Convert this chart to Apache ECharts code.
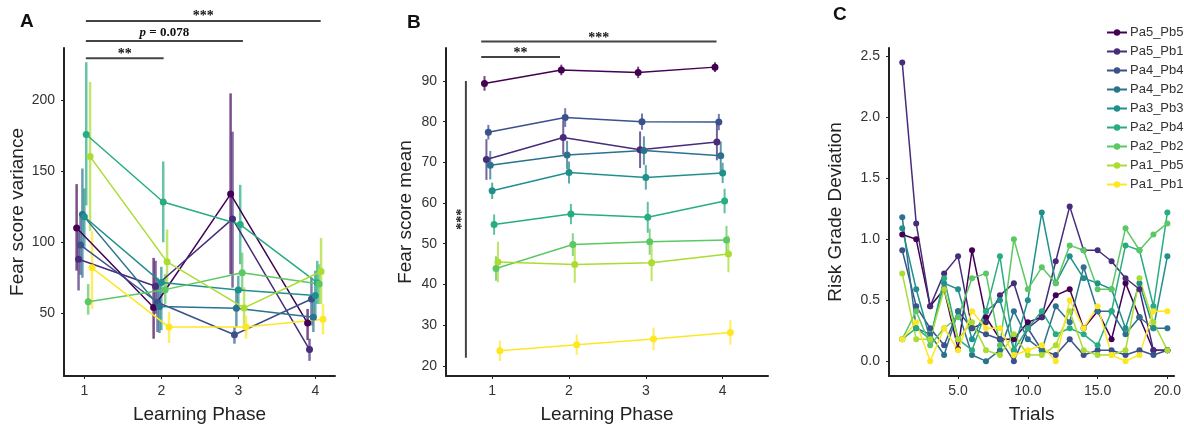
<!DOCTYPE html>
<html><head><meta charset="utf-8">
<script src="https://cdn.jsdelivr.net/npm/echarts@6/dist/echarts.min.js"></script>
<style>html,body{margin:0;padding:0;background:#fff}#c{width:1184px;height:429px}</style>
</head><body><div id="c"></div>
<script>
// ---------- data ----------
const seriesNames = ['Pa5_Pb5','Pa5_Pb1','Pa4_Pb4','Pa4_Pb2','Pa3_Pb3','Pa2_Pb4','Pa2_Pb2','Pa1_Pb5','Pa1_Pb1'];
const colors = ['#440154','#472c7a','#3b518b','#2c718e','#21908d','#27ad81','#5cc863','#aadc32','#fde725'];
const phases = [1, 2, 3, 4];
const trials = [1,2,3,4,5,6,7,8,9,10,11,12,13,14,15,16,17,18,19,20];

// tick values
const phaseTicks = [1, 2, 3, 4];
const aYTicks = [50, 100, 150, 200];
const bYTicks = [20, 30, 40, 50, 60, 70, 80, 90];
const cXTicks = [5, 10, 15, 20];
const cYTicks = [0, 0.5, 1.0, 1.5, 2.0, 2.5];

// Panel A: fear score variance (mean, lower, upper)
const aMean = [
  [110, 54, 134, 43],
  [88, 69, 116.5, 24.3],
  [98, 57.7, 34.8, 60],
  [119.5, 54.7, 53.5, 47.2],
  [118, 71.7, 66.3, 62.4],
  [176, 128.4, 112.5, 71.5],
  [58, 66.6, 78.5, 70.5],
  [160.4, 86.2, 53.7, 79.4],
  [82, 40.2, 40.2, 45.8]
];
const aLow = [
  [80, 32, 77.5, 31],
  [66, 49.5, 68, 16.4],
  [77, 36.7, 28.5, 41.4],
  [75, 36, 40.2, 36.7],
  [96, 38, 56.5, 47.2],
  [126, 100, 84.5, 56.5],
  [49, 56.5, 66, 56.5],
  [108, 67, 40.2, 56.5],
  [53, 29, 32, 35]
];
const aHigh = [
  [141, 89, 205, 53],
  [108, 87, 178, 32],
  [118, 75, 40.2, 75],
  [152, 70.5, 67, 61.2],
  [138, 82.7, 76.4, 79.9],
  [227, 157, 140.5, 86.9],
  [70.5, 77.5, 92.7, 84.5],
  [213, 109, 68.2, 103],
  [108, 50.7, 48.4, 56.5]
];

// Panel B: fear score mean (mean, +/- error)
const bMean = [
  [89.4, 92.7, 92.1, 93.4],
  [70.7, 76.1, 73.1, 75.0],
  [77.4, 81.0, 80.0, 79.9],
  [69.3, 71.8, 72.9, 71.6],
  [63.0, 67.5, 66.3, 67.4],
  [54.7, 57.3, 56.5, 60.5],
  [43.9, 49.8, 50.5, 50.9],
  [45.5, 44.9, 45.3, 47.5],
  [23.7, 25.2, 26.6, 28.2]
];
const bErr = [
  [1.8, 1.3, 1.4, 1.2],
  [5.0, 4.2, 4.5, 4.5],
  [1.8, 2.3, 2.0, 2.0],
  [3.5, 3.5, 3.5, 3.5],
  [2.0, 2.7, 3.0, 2.5],
  [2.5, 2.5, 3.8, 3.0],
  [3.0, 2.8, 3.2, 3.5],
  [5.0, 4.5, 4.5, 4.5],
  [2.5, 2.5, 2.8, 3.0]
];

// Panel C: risk grade deviation per trial
const cVals = [
  [1.04, 1.0, 0.45, 0.59, 0.1, 0.91, 0.36, 0.18, 0.18, 0.32, 0.36, 0.54, 0.59, 0.27, 0.41, 0.18, 0.64, 0.36, 0.09, 0.09],
  [2.45, 1.13, 0.45, 0.72, 0.86, 0.27, 0.32, 0.54, 0.64, 0.27, 0.36, 0.82, 1.27, 0.91, 0.91, 0.82, 0.68, 0.59, 0.09, 0.09],
  [0.91, 0.45, 0.27, 0.13, 0.41, 0.27, 0.22, 0.18, 0.0, 0.27, 0.09, 0.05, 0.18, 0.05, 0.09, 0.09, 0.05, 0.09, 0.05, 0.09],
  [1.18, 0.27, 0.22, 0.05, 0.41, 0.05, 0.0, 0.09, 0.41, 0.18, 0.09, 0.45, 0.32, 0.77, 0.41, 0.41, 0.22, 0.36, 0.27, 0.27],
  [1.09, 0.59, 0.18, 0.64, 0.59, 0.18, 0.41, 0.5, 0.09, 0.5, 1.22, 0.64, 0.86, 0.68, 0.64, 0.59, 0.27, 0.64, 0.27, 0.86],
  [0.18, 0.27, 0.18, 0.68, 0.18, 0.09, 0.41, 0.86, 0.09, 0.27, 0.41, 0.22, 0.27, 0.22, 0.13, 0.41, 0.95, 0.91, 0.45, 1.22],
  [0.18, 0.41, 0.13, 0.27, 0.36, 0.68, 0.72, 0.13, 1.0, 0.59, 0.77, 0.64, 0.95, 0.91, 0.59, 0.59, 1.09, 0.91, 1.04, 1.13],
  [0.72, 0.18, 0.18, 0.59, 0.18, 0.32, 0.09, 0.05, 0.22, 0.05, 0.05, 0.13, 0.41, 0.09, 0.05, 0.05, 0.09, 0.68, 0.32, 0.09],
  [0.18, 0.32, 0.0, 0.27, 0.09, 0.41, 0.27, 0.27, 0.05, 0.09, 0.13, 0.0, 0.5, 0.27, 0.45, 0.05, 0.0, 0.05, 0.41, 0.41]
];

// significance annotations (in data units)
const aBrackets = [
  {from: 1.02, to: 4.07, level: 256, text: '***', dy: -5},
  {from: 1.02, to: 3.06, level: 242, text: 'p = 0.078', dy: -8},
  {from: 1.02, to: 2.03, level: 229.7, text: '**', dy: -3.5}
];
const bBrackets = [
  {from: 0.857, to: 3.92, level: 99.7, text: '***', dy: -3.5},
  {from: 0.857, to: 1.883, level: 95.9, text: '**', dy: -3.5}
];
const bVertical = {x: 0.658, from: 22, to: 90, text: '***'};

// ---------- chart ----------
const FONT = '"Liberation Sans", Arial, sans-serif';
const SERIF = '"Liberation Serif", "Times New Roman", serif';
const dodge = i => (i - 4) * 0.025;
const chart = echarts.init(document.getElementById('c'), null, {renderer: 'canvas'});

function makeAxis(gi, min, max, ticks, digits, name, nameGap, margin) {
  return {
    type: 'value', gridIndex: gi, min: min, max: max, splitLine: {show: false},
    axisLine: {show: true, onZero: false, lineStyle: {color: '#222', width: 2}},
    axisTick: {show: true, length: 3, customValues: ticks, lineStyle: {color: '#222', width: 1}},
    axisLabel: {color: '#333', fontSize: 14, fontFamily: FONT, margin: margin, customValues: ticks,
      formatter: v => digits ? Number(v).toFixed(digits) : String(Math.round(v))},
    name: name, nameGap: nameGap, nameLocation: 'middle',
    nameTextStyle: {color: '#222', fontSize: 19, fontFamily: FONT}
  };
}

const xAxes = [
  makeAxis(0, 0.736, 4.256, phaseTicks, 0, 'Learning Phase', 29, 8),
  makeAxis(1, 0.399, 4.59, phaseTicks, 0, 'Learning Phase', 29, 8),
  makeAxis(2, 0.05, 20.48, cXTicks, 1, 'Trials', 29, 8)
];
const yAxes = [
  makeAxis(0, 5.7, 237, aYTicks, 0, 'Fear score variance', 36, 9),
  makeAxis(1, 17.5, 98.1, bYTicks, 0, 'Fear score mean', 31, 9),
  makeAxis(2, -0.122, 2.57, cYTicks, 1, 'Risk Grade Deviation', 44, 9)
];

function errSeries(gi, i, data, width, opacity) {
  return {
    type: 'custom', xAxisIndex: gi, yAxisIndex: gi, silent: true, z: 1,
    encode: {x: 0, y: [1, 2]},
    data: data,
    renderItem: (params, api) => {
      const p1 = api.coord([api.value(0), api.value(1)]);
      const p2 = api.coord([api.value(0), api.value(2)]);
      return {type: 'line', shape: {x1: p1[0], y1: p1[1], x2: p2[0], y2: p2[1]},
        style: {stroke: colors[i], lineWidth: width, opacity: opacity}};
    }
  };
}
function lineSeries(gi, i, data, size) {
  return {
    type: 'line', name: seriesNames[i], xAxisIndex: gi, yAxisIndex: gi, z: 2,
    data: data, symbol: 'circle', symbolSize: size, showSymbol: true,
    itemStyle: {color: colors[i]}, lineStyle: {color: colors[i], width: 1.5},
    emphasis: {disabled: true}, animation: false
  };
}

const series = [];
seriesNames.forEach((n, i) => {
  const xs = phases.map(p => p + dodge(i));
  series.push(errSeries(0, i, xs.map((x, k) => [x, aLow[i][k], aHigh[i][k]]), 2.5, 0.7));
  series.push(lineSeries(0, i, xs.map((x, k) => [x, aMean[i][k]]), 7));
  series.push(errSeries(1, i, xs.map((x, k) => [x, bMean[i][k] - bErr[i][k], bMean[i][k] + bErr[i][k]]), 2, 0.75));
  series.push(lineSeries(1, i, xs.map((x, k) => [x, bMean[i][k]]), 7));
});
seriesNames.forEach((n, i) => {
  series.push(lineSeries(2, i, trials.map((t, k) => [t, cVals[i][k]]), 6));
});

chart.setOption({
  animation: false,
  backgroundColor: '#fff',
  grid: [
    {left: 64, top: 48, width: 271, height: 331},
    {left: 446, top: 48, width: 322, height: 331},
    {left: 889, top: 48, width: 286, height: 331}
  ],
  xAxis: xAxes,
  yAxis: yAxes,
  legend: {
    data: seriesNames, orient: 'vertical', left: 1101, top: 21,
    itemWidth: 20, itemHeight: 8, itemGap: 6, selectedMode: false,
    textStyle: {color: '#333', fontSize: 13, fontFamily: FONT, padding: [0, 0, 0, -2]}
  },
  series: series
});

// annotations positioned through the axes
const px = (gi, x, y) => chart.convertToPixel({gridIndex: gi}, [x, y]);
const graphics = [];
const letters = [
  {t: 'A', x: 20, y: 22}, {t: 'B', x: 407, y: 23}, {t: 'C', x: 833, y: 15}
];
letters.forEach(l => graphics.push({type: 'text', x: l.x, y: l.y,
  style: {text: l.t, fontSize: 19, fontWeight: 'bold', fontFamily: FONT, fill: '#111', verticalAlign: 'middle', align: 'left'}}));

function addBracket(gi, b) {
  const p1 = px(gi, b.from, b.level), p2 = px(gi, b.to, b.level);
  graphics.push({type: 'line', shape: {x1: p1[0], y1: p1[1], x2: p2[0], y2: p2[1]}, style: {stroke: '#444', lineWidth: 2}});
  let rich = null, text = b.text;
  if (b.text.indexOf('p =') === 0) {
    text = '{i|p}{n|' + b.text.slice(1) + '}';
    rich = {i: {fontStyle: 'italic', fontWeight: 'bold', fontSize: 13, fontFamily: SERIF, fill: '#111'},
            n: {fontWeight: 'bold', fontSize: 13, fontFamily: SERIF, fill: '#111'}};
  }
  const st = {text: text, fontSize: 14, fontWeight: 'bold', fontFamily: SERIF, fill: '#111', align: 'center', verticalAlign: 'middle'};
  if (rich) st.rich = rich;
  graphics.push({type: 'text', x: (p1[0] + p2[0]) / 2, y: p1[1] + b.dy, style: st});
}
aBrackets.forEach(b => addBracket(0, b));
bBrackets.forEach(b => addBracket(1, b));
const v1 = px(1, bVertical.x, bVertical.from), v2 = px(1, bVertical.x, bVertical.to);
graphics.push({type: 'line', shape: {x1: v1[0], y1: v1[1], x2: v2[0], y2: v2[1]}, style: {stroke: '#444', lineWidth: 2}});
graphics.push({type: 'text', x: v1[0] - 4, y: (v1[1] + v2[1]) / 2, rotation: Math.PI / 2,
  style: {text: bVertical.text, fontSize: 14, fontWeight: 'bold', fontFamily: SERIF, fill: '#111', align: 'center', verticalAlign: 'middle'}});

chart.setOption({graphic: graphics});
</script>
</body></html>
